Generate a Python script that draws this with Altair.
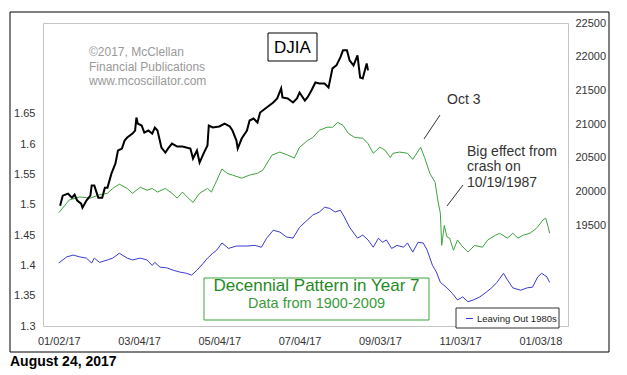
import altair as alt
import pandas as pd

FONT = "Liberation Sans"

# ---- data (days after 2017-01-02, value) ----
green_days = [0, 8, 16, 24, 30, 37, 41, 46, 52, 56, 62, 67, 71, 75, 81, 86, 90, 94, 98, 102,
              107, 113, 116, 120, 124, 128, 132, 139, 145, 151, 155, 162, 168, 174, 179, 183, 189, 193, 198, 204,
              208, 212, 216, 220, 225, 231, 235, 239, 244, 248, 252, 254, 259, 265, 269, 275, 278, 282, 286, 288,
              290, 291, 293, 295, 297, 300, 303, 306, 311, 316, 322, 326, 332, 335, 341, 345, 349, 353, 358, 363,
              368, 370, 372, 373]
green_vals = [1.487, 1.508, 1.513, 1.511, 1.516, 1.519, 1.527, 1.534, 1.527, 1.519, 1.529, 1.524, 1.527, 1.521, 1.527,
              1.519, 1.511, 1.521, 1.512, 1.504, 1.519, 1.527, 1.521, 1.540, 1.559, 1.552, 1.549, 1.544, 1.549, 1.552,
              1.557, 1.582, 1.587, 1.582, 1.577, 1.595, 1.606, 1.611, 1.623, 1.628, 1.628, 1.636, 1.631, 1.618, 1.611,
              1.610, 1.601, 1.585, 1.595, 1.590, 1.578, 1.585, 1.587, 1.585, 1.575, 1.595, 1.578, 1.552, 1.537, 1.508,
              1.486, 1.433, 1.466, 1.447, 1.445, 1.425, 1.442, 1.433, 1.422, 1.433, 1.430, 1.442, 1.450, 1.453, 1.445,
              1.453, 1.445, 1.450, 1.453, 1.461, 1.475, 1.478, 1.463, 1.453]

blue_days = [0, 6, 11, 16, 21, 25, 27, 31, 37, 41, 46, 52, 56, 62, 67, 71, 73, 77, 82, 87,
             92, 97, 101, 105, 110, 113, 117, 120, 124, 129, 135, 143, 149, 154, 158, 163, 168, 173, 178, 183,
             189, 193, 198, 202, 206, 210, 214, 217, 221, 227, 231, 235, 239, 243, 246, 249, 253, 257, 262, 265,
             269, 273, 277, 280, 284, 287, 290, 295, 299, 303, 307, 311, 315, 320, 325, 329, 333, 338, 341, 345,
             351, 356, 360, 364, 367, 371, 373]
blue_vals = [1.404, 1.414, 1.417, 1.414, 1.412, 1.404, 1.412, 1.405, 1.409, 1.412, 1.420, 1.412, 1.409, 1.412, 1.409,
             1.400, 1.405, 1.397, 1.396, 1.392, 1.389, 1.387, 1.384, 1.392, 1.404, 1.412, 1.420, 1.425, 1.437, 1.428,
             1.432, 1.432, 1.433, 1.430, 1.445, 1.458, 1.455, 1.447, 1.445, 1.463, 1.475, 1.483, 1.488, 1.496, 1.494,
             1.488, 1.491, 1.480, 1.463, 1.445, 1.450, 1.442, 1.430, 1.445, 1.438, 1.442, 1.428, 1.433, 1.430, 1.437,
             1.422, 1.438, 1.437, 1.425, 1.400, 1.389, 1.372, 1.363, 1.354, 1.343, 1.348, 1.340, 1.343, 1.348, 1.356,
             1.363, 1.372, 1.387, 1.376, 1.363, 1.359, 1.363, 1.364, 1.381, 1.387, 1.381, 1.372]

djia_days = [1, 3, 7, 10, 12, 14, 17, 18, 21, 24, 25, 27, 30, 33, 35, 37, 40, 43, 45, 48,
             50, 52, 56, 58, 59, 60, 63, 65, 68, 71, 73, 75, 78, 81, 83, 86, 90, 94, 100, 102,
             105, 107, 110, 113, 114, 117, 122, 126, 130, 132, 135, 136, 139, 143, 145, 148, 151, 153, 155, 158,
             160, 163, 166, 169, 170, 174, 178, 181, 183, 187, 189, 192, 195, 198, 202, 205, 208, 211, 214, 216,
             219, 221, 224, 227, 229, 231, 233, 234, 235]
djia_vals = [19787, 19936, 19966, 19906, 19951, 19862, 19817, 19757, 19862, 19936, 20085, 20085, 19906, 19906, 20055,
             20055, 20263, 20412, 20606, 20635, 20754, 20799, 20858, 20903, 21096, 21007, 20977, 20873, 20903, 20858,
             20948, 20903, 20650, 20576, 20635, 20710, 20665, 20665, 20635, 20487, 20606, 20427, 20561, 20680, 20977,
             20948, 20963, 21007, 20963, 20903, 20754, 20635, 20784, 20903, 21052, 21081, 21022, 21171, 21201, 21245,
             21275, 21320, 21379, 21528, 21394, 21379, 21320, 21379, 21468, 21349, 21394, 21498, 21617, 21602, 21602,
             21543, 21826, 21870, 21989, 22094, 22094, 21945, 21870, 22019, 21691, 21677, 21826, 21900, 21796]

x_tick_dates = ["2017-01-02", "2017-03-04", "2017-05-04", "2017-07-04", "2017-09-03", "2017-11-03", "2018-01-03"]
left_ticks = [1.3, 1.35, 1.4, 1.45, 1.5, 1.55, 1.6, 1.65]
right_ticks = [19500, 20000, 20500, 21000, 21500, 22000, 22500]
series_names = ["Decennial Pattern", "Leaving Out 1980s"]

GREEN = "#3da33d"
BLUE = "#3a3ad0"

base = pd.Timestamp("2017-01-02")


def to_dates(days):
    return base + pd.to_timedelta(days, unit="D")


pattern_df = pd.concat([
    pd.DataFrame({"date": to_dates(green_days), "value": green_vals, "series": series_names[0]}),
    pd.DataFrame({"date": to_dates(blue_days), "value": blue_vals, "series": series_names[1]}),
])
djia_df = pd.DataFrame({"date": to_dates(djia_days), "value": djia_vals})


def dt(s):
    t = pd.Timestamp(s)
    return alt.DateTime(year=t.year, month=t.month, date=t.day)


x_enc = alt.X("date:T",
              scale=alt.Scale(domain=[dt("2016-12-21"), dt("2018-01-24")]),
              axis=alt.Axis(values=[dt(s) for s in x_tick_dates], format="%m/%d/%y", title=None,
                            grid=False, ticks=False, domain=False, labelPadding=9,
                            labelFontSize=11, labelColor="#333333", labelFont=FONT))

patterns = alt.Chart(pattern_df).mark_line(strokeWidth=1, interpolate="linear").encode(
    x=x_enc,
    y=alt.Y("value:Q", scale=alt.Scale(domain=[1.3, 1.8], nice=False, zero=False),
            axis=alt.Axis(values=left_ticks, format="~g", title=None, grid=False, ticks=False,
                          domain=False, labelPadding=8, labelFontSize=11, labelColor="#333333",
                          labelFont=FONT, orient="left")),
    color=alt.Color("series:N", scale=alt.Scale(domain=series_names, range=[GREEN, BLUE]), legend=None),
    detail="series:N",
)

djia = alt.Chart(djia_df).mark_line(strokeWidth=2, color="black").encode(
    x=alt.X("date:T"),
    y=alt.Y("value:Q", scale=alt.Scale(domain=[18000, 22500], nice=False, zero=False),
            axis=alt.Axis(values=right_ticks, format="d", title=None, grid=False, ticks=False,
                          domain=False, labelPadding=7, labelFontSize=11, labelColor="#333333",
                          labelFont=FONT, orient="right")),
)

one = alt.InlineData(values=[{}])


def txt(s, x, y, size=14, color="#333333", align="left", weight="normal"):
    return alt.Chart(one).mark_text(text=s, align=align, baseline="middle", fontSize=size,
                                    color=color, font=FONT, fontWeight=weight).encode(
        x=alt.value(x), y=alt.value(y))


def box(x, y, x2, y2, stroke, fill="white", fill_opacity=1.0):
    return alt.Chart(one).mark_rect(stroke=stroke, strokeWidth=1, fill=fill, fillOpacity=fill_opacity).encode(
        x=alt.value(x), y=alt.value(y), x2=alt.value(x2), y2=alt.value(y2))


def seg(x, y, x2, y2, color="#333333", width=1):
    return alt.Chart(one).mark_rule(color=color, strokeWidth=width).encode(
        x=alt.value(x), y=alt.value(y), x2=alt.value(x2), y2=alt.value(y2))


layers = [
    box(-33, -11, 566, 329, "black", fill="white", fill_opacity=0.0),
    patterns,
    djia,
    # watermark
    txt("©2017, McClellan", 46, 29, size=12, color="#999999"),
    txt("Financial Publications", 46, 44, size=12, color="#999999"),
    txt("www.mcoscillator.com", 46, 58, size=12, color="#999999"),
    # DJIA label box
    box(225, 10, 274, 38, "black"),
    txt("DJIA", 249.5, 24.5, size=17, color="black", align="center"),
    # annotations
    txt("Oct 3", 404, 77, size=14),
    seg(397, 92, 381, 116),
    txt("Big effect from", 424, 129, size=14),
    txt("crash on", 424, 144, size=14),
    txt("10/19/1987", 424, 160, size=14),
    seg(420, 162, 404, 183),
    # title box
    box(161, 255, 386, 297, GREEN),
    txt("Decennial Pattern in Year 7", 273.5, 263, size=17, color="#1f8a1f", align="center"),
    txt("Data from 1900-2009", 273.5, 281, size=14.5, color="#3a9a3a", align="center"),
    # legend
    box(413, 285, 516, 305, "#333333"),
    seg(423, 295.5, 430, 295.5, color=BLUE, width=1),
    txt("Leaving Out 1980s", 434, 295.5, size=9.5, color="#222222"),
    # date stamp
    txt("August 24, 2017", -33, 339, size=14, color="black", weight="bold"),
]

chart = alt.layer(*layers).resolve_scale(y="independent").properties(
    width=525, height=303,
    autosize=alt.AutoSizeParams(type="none"),
    padding={"left": 43, "top": 23, "right": 59, "bottom": 49},
    background="white",
).configure_view(stroke="#c4c4c4", strokeWidth=1)

chart.save("out.html", embed_options={"renderer": "svg", "actions": False})
